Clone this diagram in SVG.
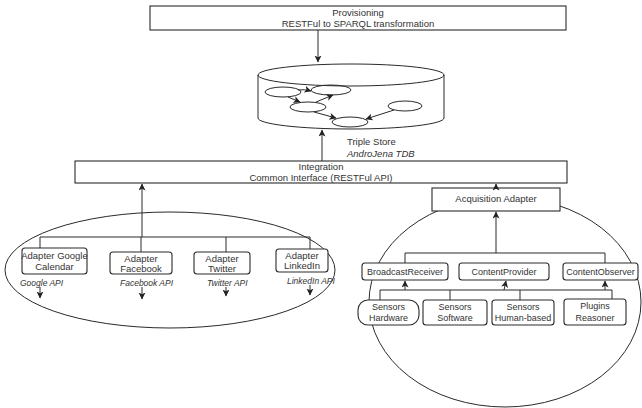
<svg xmlns="http://www.w3.org/2000/svg" width="642" height="408" viewBox="0 0 642 408">
<defs>
<marker id="ah" markerWidth="8" markerHeight="8" refX="6.5" refY="3.5" orient="auto" markerUnits="userSpaceOnUse">
<path d="M0,0 L7,3.5 L0,7 L1.8,3.5 Z" fill="#222"/>
</marker>
</defs>
<style>
.box{fill:#fff;stroke:#2a2a2a;stroke-width:1.1}
.rb{fill:#fff;stroke:#2a2a2a;stroke-width:1.1}
.ln{fill:none;stroke:#2a2a2a;stroke-width:1}
.ar{fill:none;stroke:#2a2a2a;stroke-width:1;marker-end:url(#ah)}
.el{fill:none;stroke:#2a2a2a;stroke-width:1}
text{font-family:"Liberation Sans",Arial,sans-serif;font-size:9.5px;fill:#333;text-anchor:middle}
.it{font-style:italic;font-size:8.5px;text-anchor:start}
.lt{text-anchor:start}
.sm{font-size:9px}
</style>
<rect x="0" y="0" width="642" height="408" fill="#fff"/>
<ellipse class="el" cx="170" cy="270" rx="165" ry="58"/>
<ellipse class="el" cx="505" cy="302" rx="136" ry="105"/>
<g id="provisioning">
<rect class="box" x="150" y="6" width="416" height="24"/>
<text x="358" y="16">Provisioning</text>
<text x="358" y="27">RESTFul to SPARQL transformation</text>
</g>
<g id="triplestore">
<path class="ln" d="M258,75 L258,118 A93,11 0 0 0 444,118 L444,75" fill="#fff"/>
<ellipse class="el" cx="351" cy="75" rx="93" ry="11" fill="#fff"/>
<ellipse class="el" cx="283" cy="92" rx="18" ry="5"/>
<ellipse class="el" cx="331" cy="90" rx="20" ry="5"/>
<ellipse class="el" cx="308" cy="107" rx="18" ry="5"/>
<ellipse class="el" cx="405" cy="106" rx="17" ry="5"/>
<ellipse class="el" cx="350" cy="122" rx="18" ry="5"/>
<path class="ar" d="M298,90 Q304,89 311,91"/>
<path class="ar" d="M288,97 L300,102"/>
<path class="ar" d="M316,102 L333,95"/>
<path class="ar" d="M314,112 L336,118"/>
<path class="ar" d="M394,110 L366,119"/>
<text class="lt" x="347" y="145">Triple Store</text>
<text class="lt" x="347" y="157" font-style="italic">AndroJena TDB</text>
</g>
<g id="integration">
<rect class="box" x="75" y="161" width="492" height="22"/>
<text x="321" y="170">Integration</text>
<text x="321" y="181">Common Interface (RESTFul API)</text>
</g>
<g id="adapter-google">
<rect class="rb" x="22" y="248" width="65" height="26" rx="3"/>
<text x="54.5" y="259">Adapter Google</text>
<text x="54.5" y="270">Calendar</text>
</g>
<g id="adapter-facebook">
<rect class="rb" x="110" y="252" width="62" height="22" rx="3"/>
<text x="141" y="262">Adapter</text>
<text x="141" y="272">Facebook</text>
</g>
<g id="adapter-twitter">
<rect class="rb" x="194" y="252" width="56" height="22" rx="3"/>
<text x="222" y="262">Adapter</text>
<text x="222" y="272">Twitter</text>
</g>
<g id="adapter-linkedin">
<rect class="rb" x="276" y="249" width="52" height="23" rx="3"/>
<text x="302" y="259">Adapter</text>
<text x="302" y="269">LinkedIn</text>
</g>
<g id="api-labels">
<text class="it" x="20" y="286">Google API</text>
<text class="it" x="120" y="286" font-size="8">Facebook API</text>
<text class="it" x="207" y="286">Twitter API</text>
<text class="it" x="287" y="284">LinkedIn API</text>
</g>
<g id="acquisition-adapter">
<rect class="box" x="432" y="188" width="128" height="23"/>
<text x="496" y="202">Acquisition Adapter</text>
</g>
<g id="broadcastreceiver">
<rect class="rb" x="362" y="263" width="86" height="17" rx="3"/>
<text class="sm" x="405" y="275">BroadcastReceiver</text>
</g>
<g id="contentprovider">
<rect class="rb" x="459" y="263" width="90" height="17" rx="3"/>
<text class="sm" x="504" y="275">ContentProvider</text>
</g>
<g id="contentobserver">
<rect class="rb" x="563" y="263" width="75" height="17" rx="3"/>
<text class="sm" x="600.5" y="275">ContentObserver</text>
</g>
<g id="sensors-hardware">
<rect class="rb" x="358" y="300" width="61" height="25" rx="10"/>
<text class="sm" x="388.5" y="310">Sensors</text>
<text class="sm" x="388.5" y="321">Hardware</text>
</g>
<g id="sensors-software">
<rect class="rb" x="423" y="300" width="64" height="25" rx="3"/>
<text class="sm" x="455" y="310">Sensors</text>
<text class="sm" x="455" y="321">Software</text>
</g>
<g id="sensors-human">
<rect class="rb" x="492" y="300" width="62" height="25" rx="3"/>
<text class="sm" x="523" y="310">Sensors</text>
<text class="sm" x="523" y="321">Human-based</text>
</g>
<g id="plugins-reasoner">
<rect class="rb" x="564" y="299" width="62" height="26" rx="3"/>
<text class="sm" x="595" y="309">Plugins</text>
<text class="sm" x="595" y="320.5">Reasoner</text>
</g>
<g id="connectors">
<line class="ar" x1="318" y1="30" x2="318" y2="62"/>
<line class="ar" x1="322" y1="161" x2="322" y2="130"/>
<line class="ar" x1="142" y1="237" x2="142" y2="184"/>
<line class="ar" x1="496" y1="188" x2="496" y2="184"/>
<polyline class="ln" points="40,248 40,237 310,237 310,249"/>
<line class="ln" x1="141" y1="237" x2="141" y2="252"/>
<line class="ln" x1="226" y1="237" x2="226" y2="252"/>
<line class="ar" x1="40" y1="287" x2="40" y2="298"/>
<line class="ar" x1="142" y1="287" x2="142" y2="299"/>
<line class="ar" x1="226" y1="287" x2="226" y2="296"/>
<line class="ar" x1="310" y1="285" x2="310" y2="295"/>
<line class="ar" x1="496" y1="253" x2="496" y2="212"/>
<polyline class="ln" points="405,263 405,253 605,253 605,263"/>
<line class="ar" x1="405" y1="290" x2="405" y2="281"/>
<line class="ar" x1="504" y1="290" x2="506" y2="281"/>
<line class="ar" x1="605" y1="290" x2="605" y2="281"/>
<polyline class="ln" points="380,300 380,290 612,290 612,299"/>
<line class="ln" x1="450" y1="290" x2="450" y2="300"/>
<line class="ln" x1="520" y1="290" x2="520" y2="300"/>
</g>
</svg>
